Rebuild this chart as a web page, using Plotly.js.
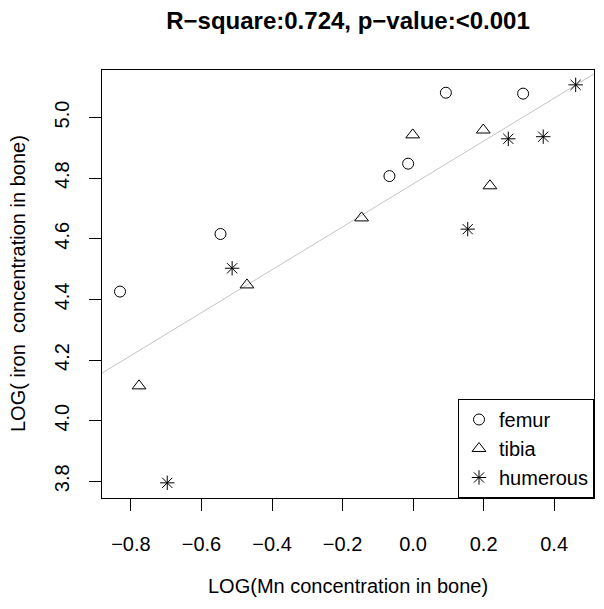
<!DOCTYPE html>
<html>
<head>
<meta charset="utf-8">
<script src="https://cdn.plot.ly/plotly-3.0.1.min.js"></script>
<style>html,body{margin:0;padding:0;background:#fff;}#plot{width:604px;height:609px;}</style>
</head>
<body>
<div id="plot"></div>
<script>
// Data
const femurX = [-0.831, -0.546, -0.067, -0.014, 0.093, 0.312];
const femurY = [4.426, 4.616, 4.807, 4.848, 5.082, 5.079];
const tibiaX = [-0.777, -0.471, -0.146, -0.001, 0.199, 0.218];
const tibiaY = [4.115, 4.448, 4.669, 4.943, 4.959, 4.775];
const humerousX = [-0.697, -0.513, 0.155, 0.270, 0.369, 0.461];
const humerousY = [3.795, 4.503, 4.632, 4.930, 4.937, 5.108];
const fitCoef = [4.781, 0.7075]; // intercept, slope
const xTicks = [-0.8, -0.6, -0.4, -0.2, 0.0, 0.2, 0.4];
const yTicks = [3.8, 4.0, 4.2, 4.4, 4.6, 4.8, 5.0];
const xRange = [-0.882, 0.513];
const yRange = [3.745, 5.157];

const lineX = [xRange[0] - 0.1, xRange[1] + 0.1];
const lineY = lineX.map(v => fitCoef[0] + fitCoef[1] * v);

const font = 'Liberation Sans, Arial, Helvetica, sans-serif';
const mk = (sym, size) => ({symbol: sym, size: size, color: 'black', line: {color: 'black', width: 1}});

const traces = [
  {x: lineX, y: lineY, mode: 'lines', line: {color: '#c4c4c4', width: 1}, showlegend: false, hoverinfo: 'skip'},
  {x: femurX, y: femurY, mode: 'markers', name: 'femur', marker: mk('circle-open', 11)},
  {x: tibiaX, y: tibiaY, mode: 'markers', name: 'tibia', marker: mk('triangle-up-open', 12)},
  {x: humerousX, y: humerousY, mode: 'markers', name: 'humerous', marker: mk('asterisk-open', 12)}
];

const tickFmt = v => (v < 0 ? '\u2212' : '') + Math.abs(v).toFixed(1);

const layout = {
  width: 604, height: 609,
  margin: {l: 102, r: 10, t: 70, b: 111},
  paper_bgcolor: 'white', plot_bgcolor: 'white',
  font: {family: font, size: 20, color: 'black'},
  title: {text: 'R\u2212square:0.724, p\u2212value:<0.001', font: {family: font, size: 24, weight: 'bold', color: 'black'},
          x: 0.5, xref: 'paper', y: 1 - 21 / 609, yref: 'container', yanchor: 'middle'},
  xaxis: {range: xRange, tickvals: xTicks, ticktext: xTicks.map(tickFmt), ticks: 'outside', ticklen: 12, tickwidth: 1,
          tickcolor: 'black', showline: true, mirror: true, linecolor: 'black', linewidth: 1, showgrid: false,
          zeroline: false, ticklabelstandoff: 16, tickfont: {size: 20}},
  yaxis: {range: yRange, tickvals: yTicks, ticktext: yTicks.map(tickFmt), ticks: 'outside', ticklen: 12, tickwidth: 1,
          tickcolor: 'black', showline: true, mirror: true, linecolor: 'black', linewidth: 1, showgrid: false,
          zeroline: false, tickangle: -90, ticklabelstandoff: 12, tickfont: {size: 20}},
  showlegend: true,
  legend: {x: 1, xanchor: 'right', y: 0, yanchor: 'bottom', bordercolor: 'black', borderwidth: 1,
           bgcolor: 'white', font: {size: 20}, tracegroupgap: 0},
  annotations: [
    {text: 'LOG(Mn concentration in bone)', xref: 'paper', yref: 'paper', x: 0.5, y: 0, yshift: -88,
     xanchor: 'center', yanchor: 'middle', showarrow: false, font: {size: 20}},
    {text: 'LOG( iron\u00a0 concentration in bone)', xref: 'paper', yref: 'paper', x: 0, y: 0.5, xshift: -84,
     xanchor: 'center', yanchor: 'middle', textangle: -90, showarrow: false, font: {size: 20}}
  ]
};

Plotly.newPlot('plot', traces, layout, {staticPlot: true, displayModeBar: false});
</script>
</body>
</html>
